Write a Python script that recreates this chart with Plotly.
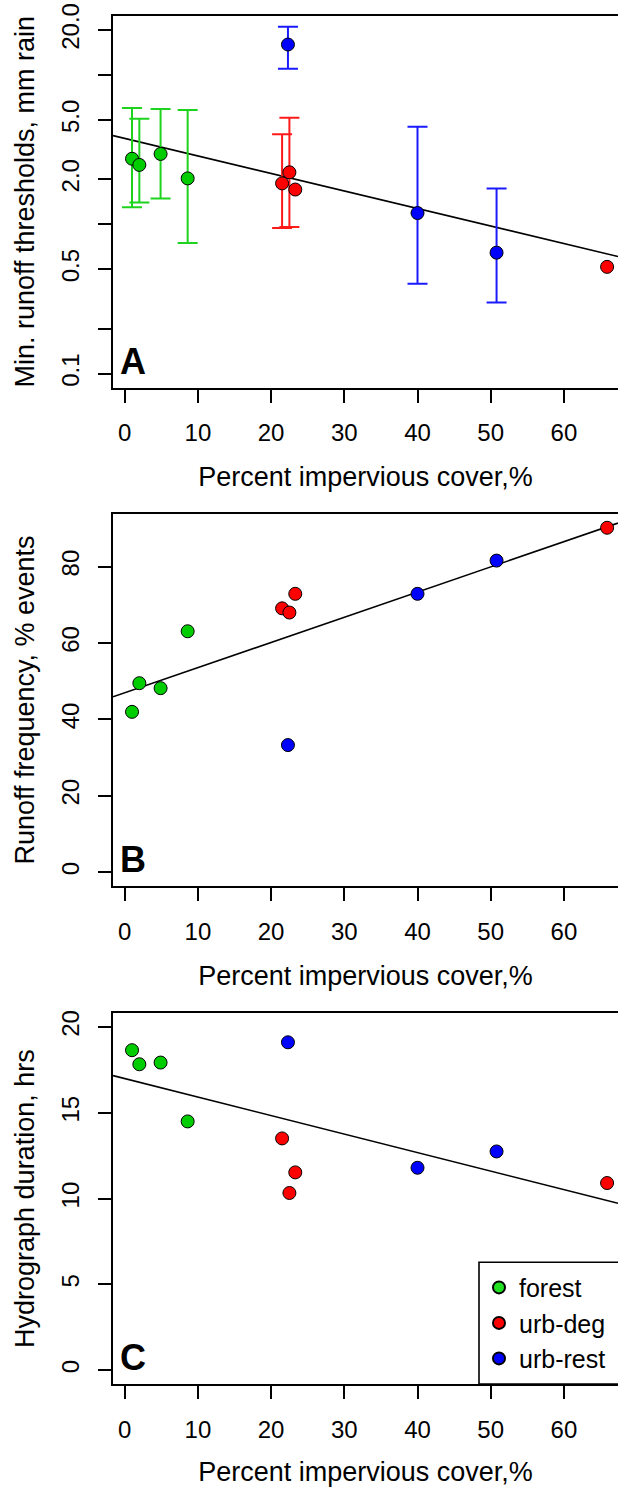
import numpy as np
import plotly.graph_objects as go

# ---------------- data ----------------
pct_impervious = [1.0, 2.0, 4.9, 8.6, 21.5, 22.5, 23.3, 22.3, 40.0, 50.8, 65.9]
site_group = ["forest", "forest", "forest", "forest",
              "urb-deg", "urb-deg", "urb-deg",
              "urb-rest", "urb-rest", "urb-rest", "urb-deg"]
threshold_mm = [2.75, 2.50, 2.96, 2.03, 1.88, 2.23, 1.71, 16.0, 1.19, 0.646, 0.519]
threshold_hi = [6.01, 5.10, 5.92, 5.83, 4.01, 5.18, None, 21.0, 4.51, 1.74, None]
threshold_lo = [1.30, 1.40, 1.49, 0.75, 0.946, 0.96, None, 11.0, 0.40, 0.30, None]
runoff_freq = [42.0, 49.5, 48.2, 63.1, 69.1, 68.0, 72.9, 33.3, 72.9, 81.6, 90.2]
hydro_duration = [18.65, 17.83, 17.93, 14.50, 13.51, 10.33, 11.53, 19.11, 11.80, 12.75, 10.91]

# fitted regression lines (intercept, slope); panel A is on log10 scale
fit_A = (0.5752, -0.01173)
fit_B = (47.0, 0.659)
fit_C = (17.0, -0.1079)

groups = ["forest", "urb-deg", "urb-rest"]
point_colors = {"forest": "#00CD00", "urb-deg": "#FF0000", "urb-rest": "#0000FF"}
bar_colors = {"forest": "#1ED31E", "urb-deg": "#FF1A1A", "urb-rest": "#1A1AFF"}
legend_colors = {"forest": "#22E022", "urb-deg": "#FF0000", "urb-rest": "#0000FF"}

# ---------------- layout constants ----------------
W, H = 618, 1487
ML = 113
FONT = "Liberation Sans, Arial, Helvetica, sans-serif"
x_range = [-1.6, 67.39]
doms = {
    "A": [1 - 387.7 / H, 1 - 15.7 / H],
    "B": [1 - 886.0 / H, 1 - 514.0 / H],
    "C": [1 - 1384.0 / H, 1 - 1013.3 / H],
}

fig = go.Figure()

x_line = np.array(x_range)
mk = dict(size=13, line=dict(color="black", width=1))

# ---------------- panel A ----------------
fig.add_trace(go.Scatter(x=x_line, y=10 ** (fit_A[0] + fit_A[1] * x_line), mode="lines",
                         line=dict(color="black", width=1.6), showlegend=False,
                         xaxis="x", yaxis="y", hoverinfo="skip"))
for g in groups:
    idx_e = [i for i, s in enumerate(site_group) if s == g and threshold_hi[i] is not None]
    idx_n = [i for i, s in enumerate(site_group) if s == g and threshold_hi[i] is None]
    if idx_e:
        fig.add_trace(go.Scatter(
            x=[pct_impervious[i] for i in idx_e],
            y=[threshold_mm[i] for i in idx_e],
            mode="markers",
            marker=dict(color=point_colors[g], **mk),
            error_y=dict(type="data", symmetric=False,
                         array=[threshold_hi[i] - threshold_mm[i] for i in idx_e],
                         arrayminus=[threshold_mm[i] - threshold_lo[i] for i in idx_e],
                         color=bar_colors[g], thickness=2, width=10),
            showlegend=False, xaxis="x", yaxis="y"))
    if idx_n:
        fig.add_trace(go.Scatter(
            x=[pct_impervious[i] for i in idx_n],
            y=[threshold_mm[i] for i in idx_n],
            mode="markers", marker=dict(color=point_colors[g], **mk),
            showlegend=False, xaxis="x", yaxis="y"))

# ---------------- panel B ----------------
fig.add_trace(go.Scatter(x=x_line, y=fit_B[0] + fit_B[1] * x_line, mode="lines",
                         line=dict(color="black", width=1.6), showlegend=False,
                         xaxis="x2", yaxis="y2", hoverinfo="skip"))
for g in groups:
    idx = [i for i, s in enumerate(site_group) if s == g]
    fig.add_trace(go.Scatter(x=[pct_impervious[i] for i in idx], y=[runoff_freq[i] for i in idx],
                             mode="markers", marker=dict(color=point_colors[g], **mk),
                             showlegend=False, xaxis="x2", yaxis="y2"))

# ---------------- panel C ----------------
fig.add_trace(go.Scatter(x=x_line, y=fit_C[0] + fit_C[1] * x_line, mode="lines",
                         line=dict(color="black", width=1.6), showlegend=False,
                         xaxis="x3", yaxis="y3", hoverinfo="skip"))
for g in groups:
    idx = [i for i, s in enumerate(site_group) if s == g]
    fig.add_trace(go.Scatter(x=[pct_impervious[i] for i in idx], y=[hydro_duration[i] for i in idx],
                             mode="markers", marker=dict(color=point_colors[g], **mk),
                             showlegend=False, xaxis="x3", yaxis="y3"))
for g in groups:
    fig.add_trace(go.Scatter(x=[None], y=[None], mode="markers", name=g,
                             marker=dict(color=legend_colors[g], **mk),
                             showlegend=True, xaxis="x3", yaxis="y3"))

# ---------------- axes ----------------
def xaxis_style(anchor):
    return dict(domain=[0, 1], anchor=anchor, range=x_range, tickvals=[0, 10, 20, 30, 40, 50, 60],
                ticks="outside", ticklen=13, tickwidth=1.6, tickcolor="black",
                showline=True, linewidth=1.8, linecolor="black", mirror=True,
                showgrid=False, zeroline=False, automargin=False,
                ticklabelstandoff=10,
                tickfont=dict(family=FONT, size=24, color="black"),
                title=dict(text="Percent impervious cover,%", standoff=22,
                           font=dict(family=FONT, size=27, color="black")))

def yaxis_style(anchor, dom, title):
    return dict(domain=dom, anchor=anchor, ticks="outside", ticklen=13, tickwidth=1.6,
                tickcolor="black", showline=True, linewidth=1.8, linecolor="black",
                mirror=False, showgrid=False, zeroline=False, automargin=False,
                tickangle=-90, ticklabelstandoff=10,
                tickfont=dict(family=FONT, size=24, color="black"),
                title=dict(text=title, standoff=14,
                           font=dict(family=FONT, size=27, color="black")))

ya = yaxis_style("x", doms["A"], "Min. runoff thresholds, mm rain")
ya.update(type="log", range=[-1.094, 1.397],
          tickvals=[0.1, 0.2, 0.5, 1, 2, 5, 10, 20],
          ticktext=["0.1", "", "0.5", "", "2.0", "5.0", "", "20.0"])
yb = yaxis_style("x2", doms["B"], "Runoff frequency, % events")
yb.update(range=[-3.6, 93.8], tickvals=[0, 20, 40, 60, 80])
yc = yaxis_style("x3", doms["C"], "Hydrograph duration, hrs")
yc.update(range=[-0.8, 20.8], tickvals=[0, 5, 10, 15, 20])

panel_letters = []
for lbl, xr, yr in [("A", "x domain", "y domain"), ("B", "x2 domain", "y2 domain"),
                    ("C", "x3 domain", "y3 domain")]:
    panel_letters.append(dict(text="<b>%s</b>" % lbl, xref=xr, yref=yr, x=0, y=0,
                              xanchor="left", yanchor="bottom", xshift=5, yshift=4,
                              showarrow=False, font=dict(family=FONT, size=36, color="black")))

# legend frame (runs off the right edge like the reference)
legend_left = (479 - ML) / (W - ML)
legend_top = 1 - 1262.3 / H
legend_box = dict(type="rect", xref="paper", yref="paper",
                  x0=legend_left, x1=1.2, y0=doms["C"][0], y1=legend_top,
                  line=dict(color="black", width=1.6), fillcolor="white", layer="below")

fig.update_layout(
    width=W, height=H, autosize=False,
    margin=dict(l=ML, r=0, t=0, b=0),
    paper_bgcolor="white", plot_bgcolor="white",
    font=dict(family=FONT, color="black"),
    xaxis=xaxis_style("y"), yaxis=ya,
    xaxis2=xaxis_style("y2"), yaxis2=yb,
    xaxis3=xaxis_style("y3"), yaxis3=yc,
    annotations=panel_letters,
    shapes=[legend_box],
    legend=dict(x=legend_left, y=(legend_top + doms["C"][0]) / 2, xanchor="left", yanchor="middle",
                borderwidth=0, bgcolor="rgba(0,0,0,0)",
                font=dict(family=FONT, size=25, color="black"),
                itemsizing="constant", tracegroupgap=0),
    showlegend=True,
)

fig.write_html("out.html")
